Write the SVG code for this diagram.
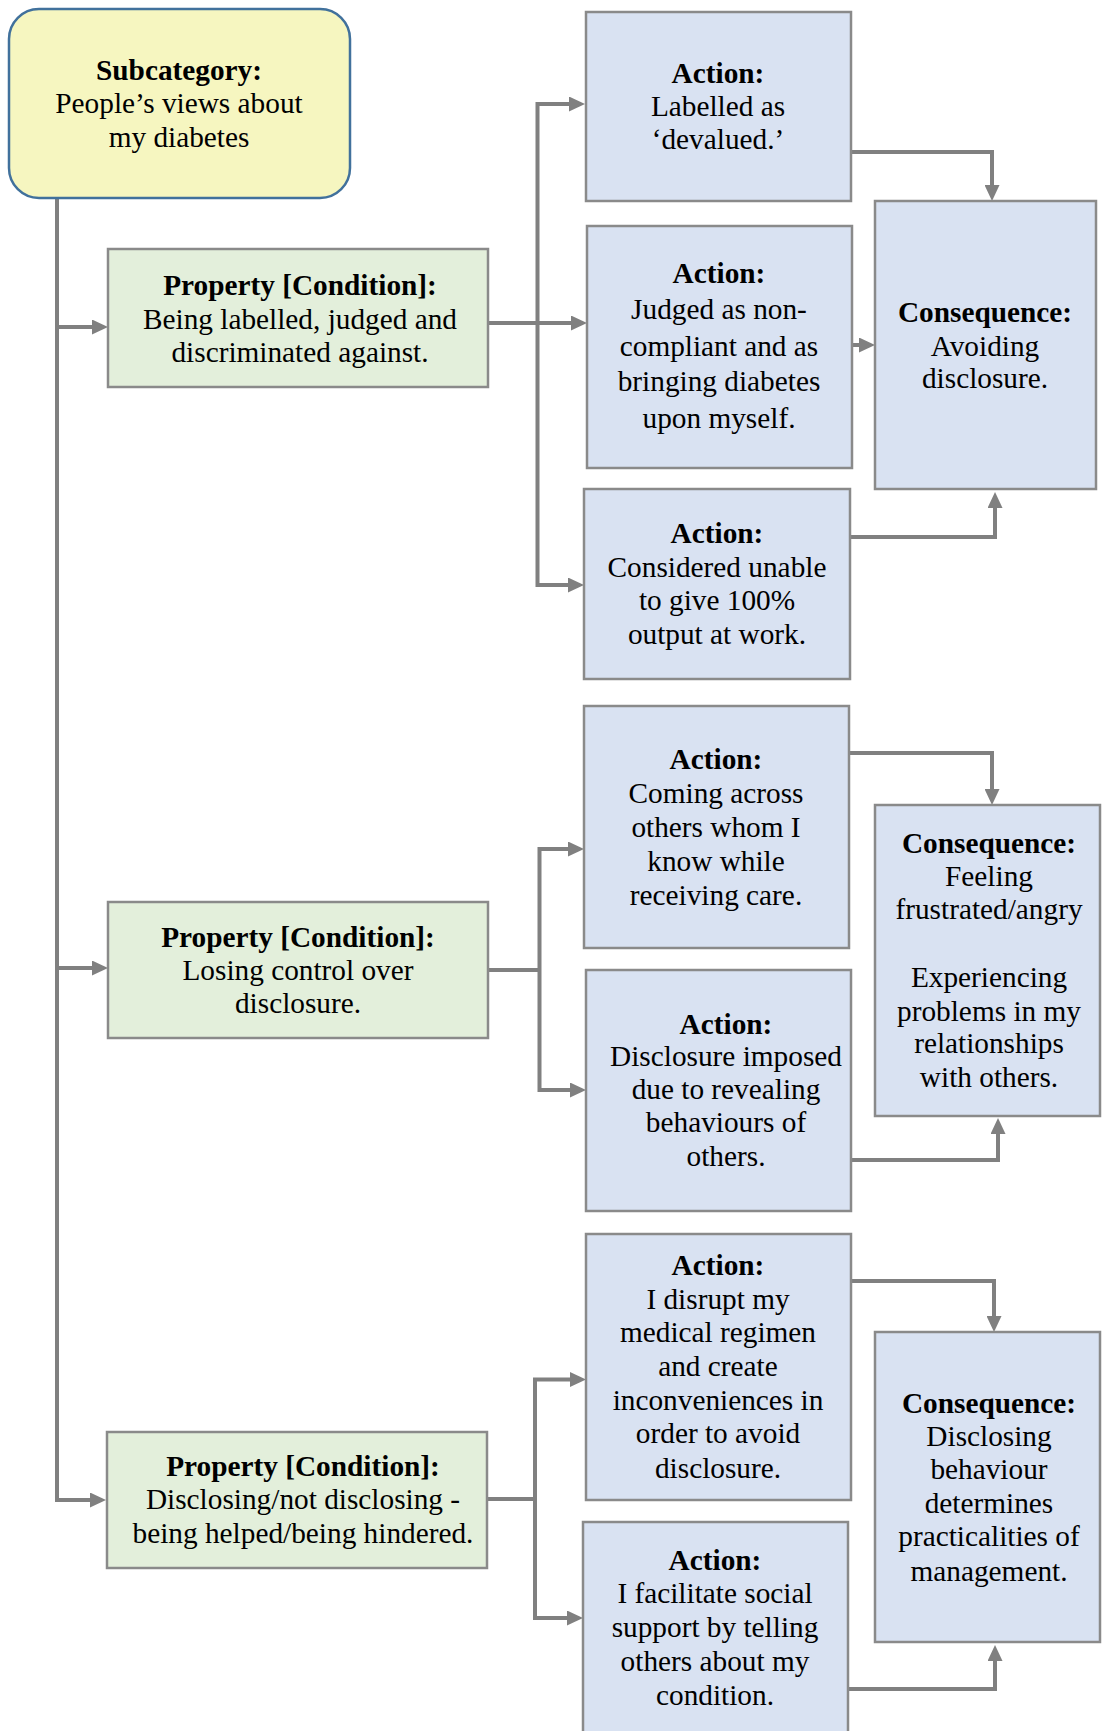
<svg xmlns="http://www.w3.org/2000/svg" width="1102" height="1731" viewBox="0 0 1102 1731">
  <style>
    .box { stroke: #8a8a8a; stroke-width: 2.5; }
    .act { fill: #D9E2F2; }
    .prop { fill: #E3EFDB; }
    .sub { fill: #F6F6C0; stroke: #41719C; stroke-width: 2.5; }
    text { font-family: "Liberation Serif", "Times New Roman", serif; font-size: 29.3px; fill: #000; text-anchor: middle; }
    .b { font-weight: bold; }
    .conn { fill: none; stroke: #808080; stroke-width: 4; stroke-linejoin: miter; }
  </style>
  <defs>
    <marker id="arrow" markerUnits="userSpaceOnUse" markerWidth="16" markerHeight="15" refX="4" refY="7.5" orient="auto">
      <path d="M0,0 L16,7.5 L0,15 Z" fill="#808080"/>
    </marker>
  </defs>
  <rect width="1102" height="1731" fill="#fff"/>

  <!-- connectors -->
  <g id="connectors" class="conn">
    <path d="M57,198 V1500 H94" marker-end="url(#arrow)"/>
    <path d="M57,327 H96" marker-end="url(#arrow)"/>
    <path d="M57,968 H96" marker-end="url(#arrow)"/>

    <path d="M488,323 H575" marker-end="url(#arrow)"/>
    <path d="M537.5,323 V104 H573" marker-end="url(#arrow)"/>
    <path d="M537.5,323 V585 H572" marker-end="url(#arrow)"/>
    <path d="M851,152 H992 V189" marker-end="url(#arrow)"/>
    <path d="M852,345 H863" marker-end="url(#arrow)"/>
    <path d="M850,537 H995 V504" marker-end="url(#arrow)"/>

    <path d="M488,970 H539.5"/>
    <path d="M539.5,970 V849 H572" marker-end="url(#arrow)"/>
    <path d="M539.5,970 V1090 H574" marker-end="url(#arrow)"/>
    <path d="M849,753 H992 V793" marker-end="url(#arrow)"/>
    <path d="M851,1160 H998 V1130" marker-end="url(#arrow)"/>

    <path d="M487,1499 H535"/>
    <path d="M535,1499 V1379.5 H574" marker-end="url(#arrow)"/>
    <path d="M535,1499 V1618 H571" marker-end="url(#arrow)"/>
    <path d="M851,1281 H994 V1320" marker-end="url(#arrow)"/>
    <path d="M848,1689 H995 V1657" marker-end="url(#arrow)"/>
  </g>

  <!-- subcategory -->
  <g id="subcategory">
    <rect class="sub" x="9" y="9" width="341" height="189" rx="30"/>
    <text x="179"><tspan class="b" x="179" y="80">Subcategory:</tspan><tspan x="179" y="113">People’s views about</tspan><tspan x="179" y="147">my diabetes</tspan></text>
  </g>

  <!-- properties -->
  <g id="property-1">
    <rect class="box prop" x="108" y="249" width="380" height="138"/>
    <text><tspan class="b" x="300" y="295">Property [Condition]:</tspan><tspan x="300" y="329">Being labelled, judged and</tspan><tspan x="300" y="362">discriminated against.</tspan></text>
  </g>
  <g id="property-2">
    <rect class="box prop" x="108" y="902" width="380" height="136"/>
    <text><tspan class="b" x="298" y="947">Property [Condition]:</tspan><tspan x="298" y="980">Losing control over</tspan><tspan x="298" y="1013">disclosure.</tspan></text>
  </g>
  <g id="property-3">
    <rect class="box prop" x="107" y="1432" width="380" height="136"/>
    <text><tspan class="b" x="303" y="1476">Property [Condition]:</tspan><tspan x="303" y="1509">Disclosing/not disclosing -</tspan><tspan x="303" y="1543">being helped/being hindered.</tspan></text>
  </g>

  <!-- actions -->
  <g id="action-1">
    <rect class="box act" x="586" y="12" width="265" height="189"/>
    <text><tspan class="b" x="718" y="83">Action:</tspan><tspan x="718" y="116">Labelled as</tspan><tspan x="718" y="149">‘devalued.’</tspan></text>
  </g>
  <g id="action-2">
    <rect class="box act" x="587" y="226" width="265" height="242"/>
    <text><tspan class="b" x="719" y="283">Action:</tspan><tspan x="719" y="319">Judged as non-</tspan><tspan x="719" y="356">compliant and as</tspan><tspan x="719" y="391">bringing diabetes</tspan><tspan x="719" y="428">upon myself.</tspan></text>
  </g>
  <g id="action-3">
    <rect class="box act" x="584" y="489" width="266" height="190"/>
    <text><tspan class="b" x="717" y="543">Action:</tspan><tspan x="717" y="577">Considered unable</tspan><tspan x="717" y="610">to give 100%</tspan><tspan x="717" y="644">output at work.</tspan></text>
  </g>
  <g id="action-4">
    <rect class="box act" x="584" y="706" width="265" height="242"/>
    <text><tspan class="b" x="716" y="769">Action:</tspan><tspan x="716" y="803">Coming across</tspan><tspan x="716" y="837">others whom I</tspan><tspan x="716" y="871">know while</tspan><tspan x="716" y="905">receiving care.</tspan></text>
  </g>
  <g id="action-5">
    <rect class="box act" x="586" y="970" width="265" height="241"/>
    <text><tspan class="b" x="726" y="1034">Action:</tspan><tspan x="726" y="1066">Disclosure imposed</tspan><tspan x="726" y="1099">due to revealing</tspan><tspan x="726" y="1132">behaviours of</tspan><tspan x="726" y="1166">others.</tspan></text>
  </g>
  <g id="action-6">
    <rect class="box act" x="586" y="1234" width="265" height="266"/>
    <text><tspan class="b" x="718" y="1275">Action:</tspan><tspan x="718" y="1309">I disrupt my</tspan><tspan x="718" y="1342">medical regimen</tspan><tspan x="718" y="1376">and create</tspan><tspan x="718" y="1410">inconveniences in</tspan><tspan x="718" y="1443">order to avoid</tspan><tspan x="718" y="1478">disclosure.</tspan></text>
  </g>
  <g id="action-7">
    <rect class="box act" x="583" y="1522" width="265" height="230"/>
    <text><tspan class="b" x="715" y="1570">Action:</tspan><tspan x="715" y="1603">I facilitate social</tspan><tspan x="715" y="1637">support by telling</tspan><tspan x="715" y="1671">others about my</tspan><tspan x="715" y="1705">condition.</tspan></text>
  </g>

  <!-- consequences -->
  <g id="consequence-1">
    <rect class="box act" x="875" y="201" width="221" height="288"/>
    <text><tspan class="b" x="985" y="322">Consequence:</tspan><tspan x="985" y="356">Avoiding</tspan><tspan x="985" y="388">disclosure.</tspan></text>
  </g>
  <g id="consequence-2">
    <rect class="box act" x="875" y="805" width="225" height="311"/>
    <text><tspan class="b" x="989" y="853">Consequence:</tspan><tspan x="989" y="886">Feeling</tspan><tspan x="989" y="919">frustrated/angry</tspan><tspan x="989" y="987">Experiencing</tspan><tspan x="989" y="1021">problems in my</tspan><tspan x="989" y="1053">relationships</tspan><tspan x="989" y="1087">with others.</tspan></text>
  </g>
  <g id="consequence-3">
    <rect class="box act" x="875" y="1332" width="225" height="310"/>
    <text><tspan class="b" x="989" y="1413">Consequence:</tspan><tspan x="989" y="1446">Disclosing</tspan><tspan x="989" y="1479">behaviour</tspan><tspan x="989" y="1513">determines</tspan><tspan x="989" y="1546">practicalities of</tspan><tspan x="989" y="1581">management.</tspan></text>
  </g>
</svg>
